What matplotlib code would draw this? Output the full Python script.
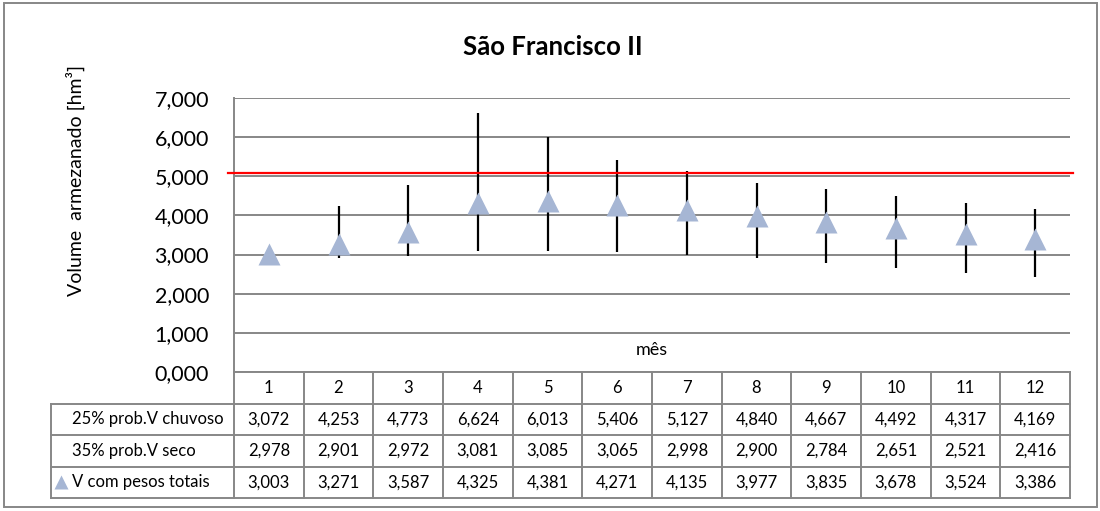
import matplotlib
matplotlib.use('Agg')
import matplotlib.pyplot as plt
from matplotlib.patches import Rectangle

# dados (mil hm³, vírgula decimal)
months = list(range(1, 13))
v_chuvoso = [3.072, 4.253, 4.773, 6.624, 6.013, 5.406, 5.127, 4.840, 4.667, 4.492, 4.317, 4.169]
v_seco = [2.978, 2.901, 2.972, 3.081, 3.085, 3.065, 2.998, 2.900, 2.784, 2.651, 2.521, 2.416]
v_total = [3.003, 3.271, 3.587, 4.325, 4.381, 4.271, 4.135, 3.977, 3.835, 3.678, 3.524, 3.386]
row_labels = ['25% prob.V chuvoso', '35% prob.V seco', 'V com pesos totais']
limite = 5.085
y_ticks = [0, 1, 2, 3, 4, 5, 6, 7]

W, H = 1100, 511
GRID = '#878787'
TRI = '#A6B6D4'

plt.rcParams['font.family'] = ['Lato', 'DejaVu Sans']


def fmt(v):
    return f'{v:.3f}'.replace('.', ',')


def box(x0, y0, x1, y1):
    return [x0 / W, 1 - y1 / H, (x1 - x0) / W, (y1 - y0) / H]


fig = plt.figure(figsize=(11, 5.11), dpi=100)

# area do grafico
ax = fig.add_axes(box(234, 98, 1070, 372))
ax.set_xlim(0.5, 12.5)
ax.set_ylim(0, 7)
ax.set_yticks(y_ticks)
ax.set_yticklabels([fmt(t) for t in y_ticks], fontsize=15.5)
ax.set_xticks([])
ax.tick_params(axis='y', length=0, pad=18)
ax.yaxis.grid(True, color=GRID, lw=1.4)
ax.set_axisbelow(True)
for s in ['top', 'right', 'bottom']:
    ax.spines[s].set_visible(False)
ax.spines['left'].set_color(GRID)
ax.spines['left'].set_linewidth(1.4)

ax.vlines(months, v_seco, v_chuvoso, color='black', lw=1.6, zorder=2)
ax.plot(months, v_total, '^', color=TRI, ms=16, mec='none', zorder=3)
ax.axhline(limite, xmin=-6 / 836, xmax=1 + 3 / 836, color='red', lw=1.6,
           clip_on=False, zorder=4)
ax.text(0.5, 22 / 274, 'mês', transform=ax.transAxes, ha='center',
        va='center', fontsize=13)

fig.text(553 / W, 1 - 47 / H, 'São Francisco II', ha='center', va='center',
         fontsize=18.5, fontweight='bold')
fig.text(75 / W, 1 - 180 / H, 'Volume  armezanado [hm³]', rotation=90,
         ha='center', va='center', fontsize=14)

# tabela de dados
col_w = 836 / 12
lab_w = (234 - 51) / col_w
x_left = 0.5 - lab_w
tax = fig.add_axes(box(51, 372, 1070, 498))
tax.set_xlim(x_left, 12.5)
tax.set_ylim(4, 0)
tax.axis('off')

lw = 1.4
tax.plot([0.5, 12.5], [0, 0], color=GRID, lw=lw, clip_on=False)
for r in range(1, 5):
    tax.plot([x_left, 12.5], [r, r], color=GRID, lw=lw, clip_on=False)
for k in range(13):
    tax.plot([0.5 + k, 0.5 + k], [0, 4], color=GRID, lw=lw, clip_on=False)
tax.plot([x_left, x_left], [1, 4], color=GRID, lw=lw, clip_on=False)

for m in months:
    tax.text(m, 0.5, str(m), ha='center', va='center', fontsize=12)
for r, serie in enumerate([v_chuvoso, v_seco, v_total], start=1):
    for m, v in zip(months, serie):
        tax.text(m, r + 0.5, fmt(v), ha='center', va='center', fontsize=12)

lab_x = 0.5 - (234 - 72) / col_w
for r, lab in enumerate(row_labels, start=1):
    tax.text(lab_x, r + 0.5, lab, ha='left', va='center', fontsize=12)
tax.plot([0.5 - (234 - 61) / col_w], [3.5], '^', color=TRI, ms=10, mec='none',
         clip_on=False)

# moldura externa
fig.patches.append(Rectangle((4 / W, 4 / H), 1093 / W, 504 / H,
                             transform=fig.transFigure, fill=False,
                             ec=GRID, lw=1.4))

fig.savefig('out.png', dpi=100)
